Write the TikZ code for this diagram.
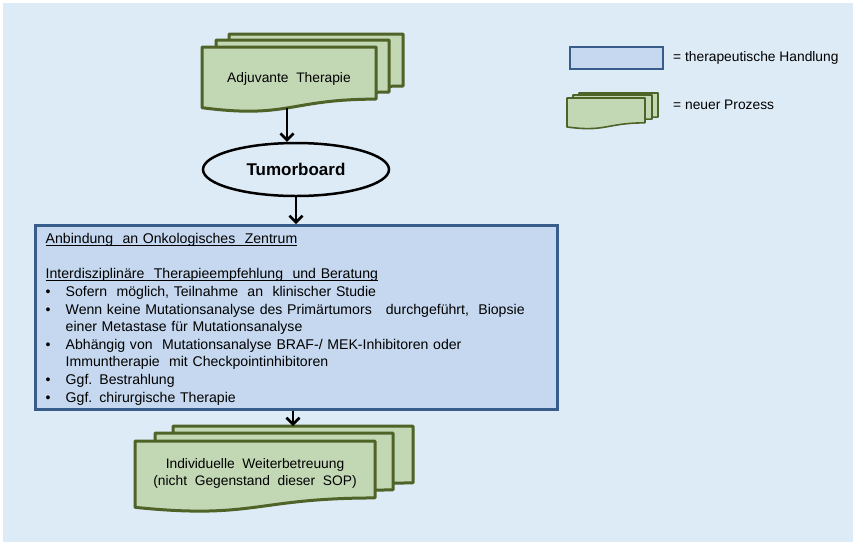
\documentclass[tikz,border=0pt]{standalone}
\usepackage{fontspec}
\setmainfont{Liberation Sans}
\usetikzlibrary{arrows.meta,shapes.geometric}

\definecolor{pagebg}{RGB}{221,235,247}
\definecolor{procfill}{RGB}{194,215,180}
\definecolor{procline}{RGB}{79,98,40}
\definecolor{actfill}{RGB}{197,216,239}
\definecolor{actline}{RGB}{56,93,138}

\tikzset{
  docpage/.style={fill=procfill, draw=procline, line width=3pt, line join=round},
  legdoc/.style={fill=procfill, draw=procline, line width=1.6pt, line join=round},
  actbox/.style={fill=actfill, draw=actline, line width=2.5pt},
  flow/.style={draw=black, line width=2.8pt, -{Straight Barb[length=6.5pt,width=13pt,line width=2.6pt]}},
  lbl/.style={font=\fontsize{13.8}{17}\selectfont, inner sep=0pt},
}

% one page of a stacked document: left x, top y, right x, height
\newcommand\docsheet[5][docpage]{%
  \filldraw[#1] (#2,#3) -- (#4,#3) -- (#4,{#3+0.802*#5})
    .. controls ({(#2+#4)/2},{#3+0.802*#5}) and ({(#2+#4)/2},{#3+1.1075*#5}) ..
    (#2,{#3+0.934*#5}) -- cycle;}

% bullet item with hanging indent
\newcommand\bitem{\hangindent=20pt\hangafter=1\noindent\makebox[20pt][l]{•}}
% heading underlined just below the baseline
\newcommand\headline[1]{\leavevmode\setbox0\hbox{#1}\rlap{\rule[-2.2pt]{\wd0}{0.7pt}}\box0}

\begin{document}
\begin{tikzpicture}[x=1pt,y=-1pt]
  % canvas
  \fill[white] (0,0) rectangle (853,542);
  \fill[pagebg] (3,3) rectangle (853,542);
  \useasboundingbox (0,0) rectangle (853,542);

  % document stack: Adjuvante Therapie
  \docsheet{229}{34}{403}{65}
  \docsheet{216}{40}{389}{65}
  \docsheet{202}{47}{376}{65}
  \node[lbl] (adjtext) at (289,79) {Adjuvante\ \ Therapie};
  \coordinate (adjout) at (287,108);

  % Tumorboard
  \node[ellipse, draw=black, line width=2.5pt, minimum width=186pt,
        minimum height=53pt, inner sep=0pt,
        font=\bfseries\fontsize{17}{20}\selectfont] (tumor) at (296,169.5) {Tumorboard};

  % therapeutic action box
  \node[actbox, anchor=north west, minimum width=522pt, minimum height=184pt,
        inner sep=0pt] (zentrum) at (34,224) {};
  \node[anchor=north west, inner sep=0pt, text width=505pt, align=left,
        font=\fontsize{14.1}{17.65}\selectfont] (zentrumtext) at (45.5,233) {%
    \parindent=0pt
    \headline{Anbindung\ \ an Onkologisches\ \ Zentrum}\par
    \mbox{}\par
    \headline{Interdisziplinäre\ \ Therapieempfehlung\ \ und Beratung}\par
    \bitem Sofern\ \ möglich, Teilnahme\ \ an\ \ klinischer Studie\par
    \bitem Wenn keine Mutationsanalyse des Primärtumors\ \ \ durchgeführt,\ \ Biopsie\newline
      einer Metastase für Mutationsanalyse\par
    \bitem Abhängig von\ \ Mutationsanalyse BRAF-/ MEK-Inhibitoren oder\newline
      Immuntherapie\ \ mit Checkpointinhibitoren\par
    \bitem Ggf. Bestrahlung\par
    \bitem Ggf. chirurgische Therapie\par};

  % document stack: Individuelle Weiterbetreuung
  \docsheet{173}{426}{413}{71}
  \docsheet{155}{433}{393}{71}
  \docsheet{135}{441}{375}{71}
  \node[lbl, align=center] (weitertext) at (255,473.5)
    {Individuelle\ \ Weiterbetreuung\\(nicht\ \ Gegenstand\ \ dieser\ \ SOP)};
  \coordinate (weiterin) at (293,426);

  % flow
  \draw[flow] (adjout) -- (adjout |- tumor.north);
  \draw[flow] (tumor.south) -- (tumor.south |- zentrum.north);
  \draw[flow] (weiterin |- zentrum.south) -- (weiterin);

  % legend
  \node[actbox, line width=1.8pt, anchor=north west, minimum width=93pt,
        minimum height=22pt, inner sep=0pt] (legact) at (569,46) {};
  \node[lbl, anchor=west] (legacttext) at (673,58) {= therapeutische Handlung};
  \docsheet[legdoc]{579}{93}{658}{30}
  \docsheet[legdoc]{573}{95}{652}{30}
  \docsheet[legdoc]{567}{98}{645}{31}
  \node[lbl, anchor=west] (legproctext) at (673,105) {= neuer Prozess};
\end{tikzpicture}
\end{document}
